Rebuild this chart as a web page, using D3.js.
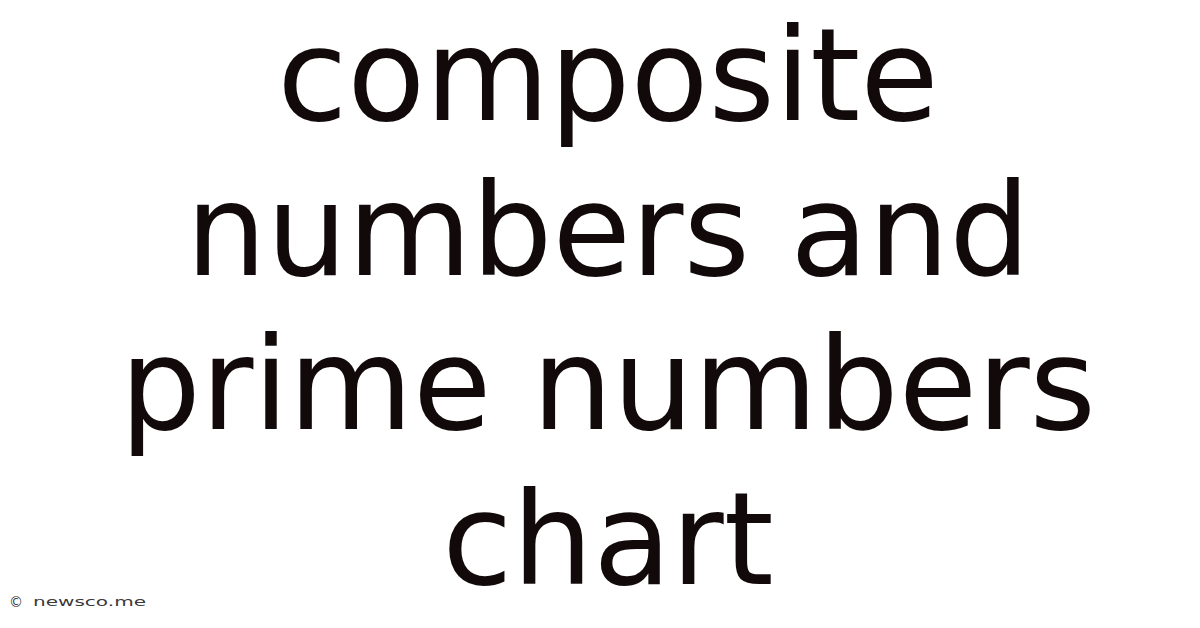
<!DOCTYPE html>
<html><head><meta charset="utf-8">
<script src="https://cdn.jsdelivr.net/npm/d3@7"></script>
<style>html,body{margin:0;padding:0;background:#fff;}svg{display:block;}</style>
</head><body>
<script>
const titleLines = ["composite", "numbers and", "prime numbers", "chart"];
const copyrightMark = "©";
const siteName = "newsco.me";

const W = 1200, H = 628;
const svg = d3.select("body").append("svg").attr("width", W).attr("height", H);
svg.append("rect").attr("width", W).attr("height", H).attr("fill", "#ffffff");

// vertical layout: baselines evenly spaced
const y = d3.scalePoint().domain(titleLines).range([120, 584]);

svg.selectAll("text.title").data(titleLines).join("text")
  .attr("class", "title")
  .attr("x", 608)
  .attr("y", d => y(d))
  .attr("text-anchor", "middle")
  .attr("font-family", "DejaVu Sans")
  .attr("font-size", 127.5)
  .attr("fill", "#120a0a")
  .text(d => d);

svg.append("text")
  .attr("x", 9).attr("y", 607)
  .attr("font-family", "DejaVu Sans")
  .attr("font-size", 14)
  .attr("fill", "#3a3a3a")
  .text(copyrightMark);

svg.append("text")
  .attr("x", 33).attr("y", 606)
  .attr("font-family", "DejaVu Sans")
  .attr("font-size", 13)
  .attr("textLength", 113)
  .attr("lengthAdjust", "spacingAndGlyphs")
  .attr("fill", "#3a3a3a")
  .text(siteName);
</script>
</body></html>
